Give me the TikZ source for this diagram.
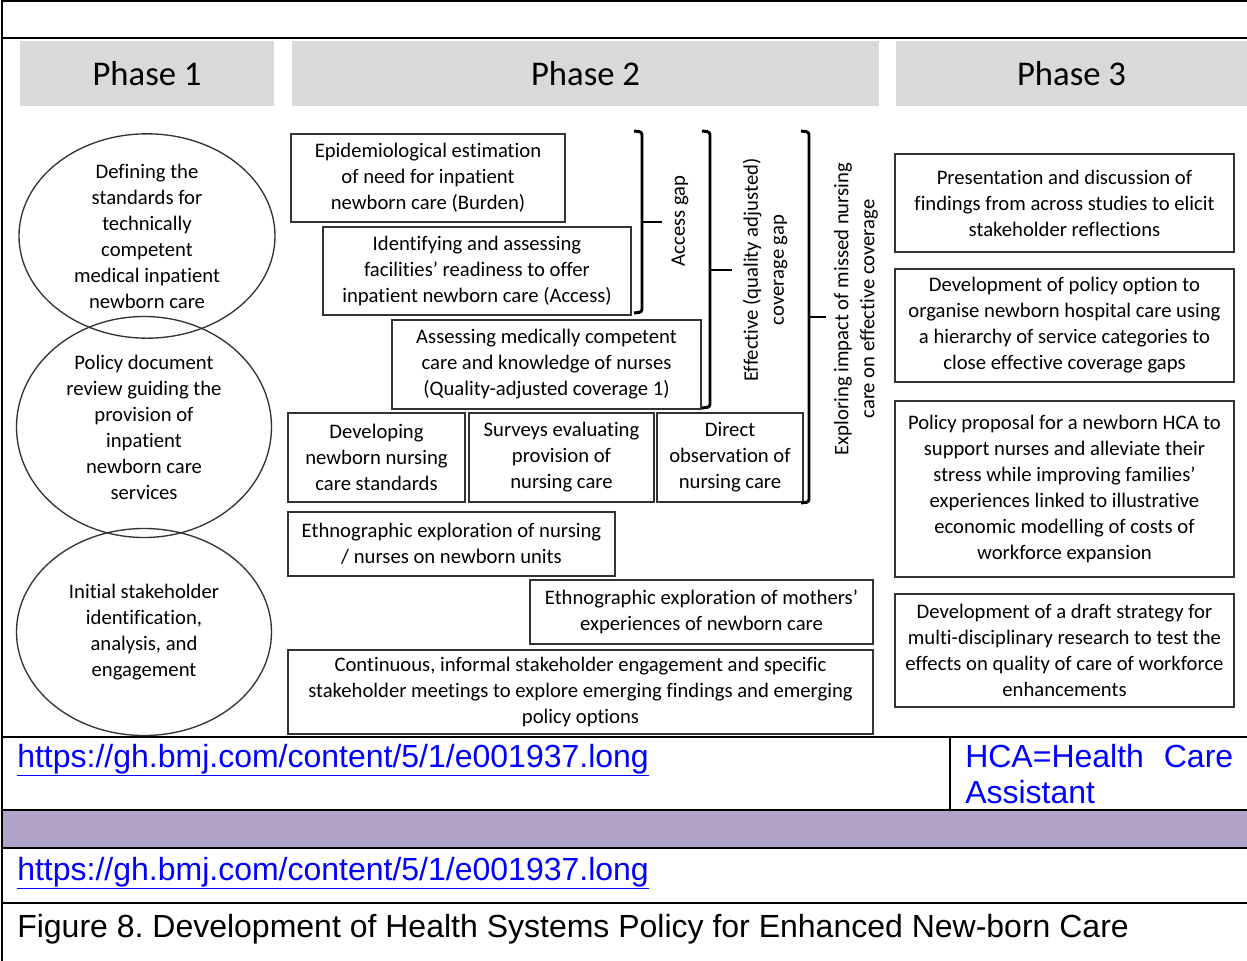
\documentclass[tikz,border=0pt]{standalone}
\usepackage{fontspec}
\setmainfont{Carlito}[Ligatures=NoCommon]
\newfontfamily\arialf{Liberation Sans}
\usetikzlibrary{shapes.geometric}
\definecolor{hdrgray}{HTML}{D9D9D9}
\definecolor{bandpurple}{HTML}{B1A2C7}
\definecolor{linkblue}{HTML}{0000FF}
\definecolor{boxline}{HTML}{333333}
\def\pxu{0.75pt}
\tikzset{
  sz/.style 2 args={minimum width=#1*\pxu, minimum height=#2*\pxu},
  box/.style={draw=boxline, line width=1.1pt, fill=white, align=center, inner sep=0pt,
    font=\fontsize{15.5}{19.5}\selectfont},
  ell/.style={draw=boxline, line width=1pt, ellipse, inner sep=0pt, align=center,
    font=\fontsize{15.5}{19.5}\selectfont},
  hdr/.style={fill=hdrgray, inner sep=0pt, font=\fontsize{26}{30}\selectfont},
  brk/.style={line width=2.2pt, rounded corners=2pt},
  vlab/.style={rotate=90, align=center, inner sep=0pt, font=\fontsize{15.5}{19.5}\selectfont},
  rule/.style={line width=1.5pt},
  thickrule/.style={line width=2pt},
  tabtext/.style={inner sep=0pt, anchor=base west, align=left,
    font=\arialf\frenchspacing\fontsize{24}{27}\selectfont},
}
\begin{document}
\begin{tikzpicture}[x=0.75pt,y=-0.75pt]
\useasboundingbox (0,0) rectangle (1247,961);
% table frame
\fill[bandpurple] (2,811) rectangle (1247,848);
\draw[rule] (2,1) -- (1247,1);
\draw[thickrule] (2,38) -- (1247,38);
\draw[thickrule] (2,0) -- (2,961);
\draw[thickrule] (2,737) -- (1247,737);
\draw[rule] (950,737) -- (950,810);
\draw[thickrule] (2,810) -- (1247,810);
\draw[rule] (2,848) -- (1247,848);
\draw[rule] (2,903) -- (1247,903);
% phase headers
\node[hdr, sz={254}{65}] (ph1) at (147,73.5) {Phase 1};
\node[hdr, sz={587}{65}] (ph2) at (585.5,73.5) {Phase 2};
\node[hdr, sz={351}{65}] (ph3) at (1071.5,73.5) {Phase 3};
% phase 1 ellipses
\node[ell, sz={256}{201}] (e1) at (147,236)
  {Defining the\\standards for\\technically\\competent\\medical inpatient\\newborn care};
\node[ell, sz={255}{221}] (e2) at (144,427)
  {Policy document\\review guiding the\\provision of\\inpatient\\newborn care\\services};
\node[ell, sz={255}{207}] (e3) at (144,632)
  {Initial stakeholder\\identification,\\analysis, and\\engagement};
% phase 2 boxes
\node[box, sz={274}{88}] (b1) at (428,178)
  {Epidemiological estimation\\of need for inpatient\\newborn care (Burden)};
\node[box, sz={308}{88}] (b2) at (477,271)
  {Identifying and assessing\\facilities’ readiness to offer\\inpatient newborn care (Access)};
\node[box, sz={309}{89}] (b3) at (546.5,364.5)
  {Assessing medically competent\\care and knowledge of nurses\\(Quality-adjusted coverage 1)};
\node[box, sz={177}{89}] (b4) at (376.5,457.5)
  {Developing\\newborn nursing\\care standards};
\node[box, sz={185}{89}] (b5) at (561.5,457.5)
  {Surveys evaluating\\provision of\\nursing care};
\node[box, sz={146}{89}] (b6) at (730,457.5)
  {Direct\\observation of\\nursing care};
\node[box, sz={327}{64}] (b7) at (451.5,544)
  {Ethnographic exploration of nursing\\/ nurses on newborn units};
\node[box, sz={343}{64}] (b8) at (701.5,612)
  {Ethnographic exploration of mothers’\\experiences of newborn care};
\node[box, sz={585}{84}] (b9) at (580.5,692)
  {Continuous, informal stakeholder engagement and specific\\stakeholder meetings to explore emerging findings and emerging\\policy options};
% brackets
\draw[brk] (634,131) -- (642,132) -- (642,312) -- (634,313);
\draw[brk] (642,222) -- (662,222);
\draw[brk] (702,131) -- (710,132) -- (710,407) -- (702,408);
\draw[brk] (710,270) -- (732,270);
\draw[brk] (801,131) -- (809,132) -- (809,502) -- (801,503);
\draw[brk] (809,317) -- (826,317);
\node[vlab] (l1) at (680,221) {Access gap};
\node[vlab] (l2) at (765,270) {Effective (quality adjusted)\\coverage gap};
\node[vlab] (l3) at (856,309) {Exploring impact of missed nursing\\care on effective coverage};
% phase 3 boxes
\node[box, sz={339}{98}] (p1) at (1064.5,203)
  {Presentation and discussion of\\findings from across studies to elicit\\stakeholder reflections};
\node[box, sz={339}{113}] (p2) at (1064.5,325.5)
  {Development of policy option to\\organise newborn hospital care using\\a hierarchy of service categories to\\close effective coverage gaps};
\node[box, sz={339}{176}] (p3) at (1064.5,489)
  {Policy proposal for a newborn HCA to\\support nurses and alleviate their\\stress while improving families’\\experiences linked to illustrative\\economic modelling of costs of\\workforce expansion};
\node[box, sz={339}{113}] (p4) at (1064.5,650.5)
  {Development of a draft strategy for\\multi-disciplinary research to test the\\effects on quality of care of workforce\\enhancements};
% bottom table text
\node[tabtext, text=linkblue] (url1) at (17,767) {\underline{https://gh.bmj.com/content/5/1/e001937.long}};
\node[tabtext, text=linkblue] (hca) at (965,803)
  {\makebox[201pt][l]{HCA=Health\hfill Care}\\Assistant};
\node[tabtext, text=linkblue] (url2) at (17,880) {\underline{https://gh.bmj.com/content/5/1/e001937.long}};
\node[tabtext] (cap) at (17,937) {Figure 8. Development of Health Systems Policy for Enhanced New-born Care};
\end{tikzpicture}
\end{document}
